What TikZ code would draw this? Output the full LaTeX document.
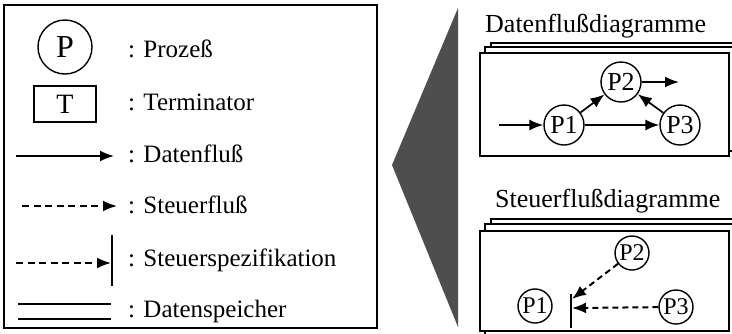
\documentclass[tikz,border=0pt]{standalone}
\usepackage{fontspec}
\setmainfont{Liberation Serif}
\usetikzlibrary{arrows.meta}
\definecolor{tri}{RGB}{78,78,78}
\begin{document}
\begin{tikzpicture}[x=1pt,y=-1pt,
  frame/.style={draw, line width=1.5pt},
  proc/.style={circle, draw, line width=1.4pt, inner sep=0pt, minimum size=40pt, font=\fontsize{26}{26}\selectfont},
  sproc/.style={proc, minimum size=34pt, font=\fontsize{24}{24}\selectfont},
  flow/.style={line width=1.7pt, -{Latex[length=14pt,width=11pt]}},
  ctrl/.style={flow, line width=2pt, dash pattern=on 7pt off 4.5pt},
  lbl/.style={anchor=base west, inner sep=0pt, font=\fontsize{25}{25}\selectfont},
  ttl/.style={anchor=base west, inner sep=0pt, font=\fontsize{26}{26}\selectfont},
  page/.style={draw, fill=white, line width=1.4pt}]
\useasboundingbox (0,0) rectangle (732,333);

% legend box
\draw[frame] (4,5) rectangle (377,328);
\node[circle, draw, line width=1.4pt, minimum size=54pt, inner sep=0pt, font=\fontsize{32}{32}\selectfont] (lp) at (65,47) {P};
\node[draw, line width=1.4pt, minimum width=62pt, minimum height=36pt, inner sep=0pt, font=\fontsize{28}{28}\selectfont] (lt) at (65,104) {T};
\node[lbl] (tp) at (128,57) {: Prozeß};
\node[lbl] (tt) at (128,110) {: Terminator};
\node[lbl] (td) at (128,162) {: Datenfluß};
\node[lbl] (ts) at (128,213) {: Steuerfluß};
\node[lbl] (tz) at (128,266) {: Steuerspezifikation};
\node[lbl] (tm) at (128,317) {: Datenspeicher};

\coordinate (a1) at (16,156); \coordinate (a2) at (114,156);
\draw[flow] (a1) -- (a2);
\coordinate (b1) at (22,206); \coordinate (b2) at (117,206);
\draw[ctrl] (b1) -- (b2);
\coordinate (c1) at (16,263); \coordinate (c2) at (111,263);
\draw[ctrl] (c1) -- (c2);
\coordinate (ct) at (112,235); \coordinate (cb) at (112,286);
\draw[line width=1.5pt] (ct) -- (cb);
\coordinate (m1) at (18,304); \coordinate (m2) at (111,304);
\coordinate (m3) at (18,319); \coordinate (m4) at (111,319);
\draw[line width=1.5pt] (m1) -- (m2) (m3) -- (m4);

% triangle
\fill[tri] (458,8) -- (392,165) -- (458,327) -- cycle;

% Datenflussdiagramme
\node[ttl] (t1) at (485,32) {Datenflußdiagramme};
\draw[page] (491,43) rectangle (741,146);
\draw[page] (485,47) rectangle (735,151);
\draw[page] (480,53) rectangle (729,156);
\node[proc] (d1) at (564,125) {P1};
\node[proc] (d2) at (621,82) {P2};
\node[proc] (d3) at (680,125) {P3};
\coordinate (din) at (499,125);
\coordinate (dout) at (679,82);
\draw[flow] (din) -- (d1);
\draw[flow] (d1) -- (d2);
\draw[flow] (d3) -- (d2);
\draw[flow] (d1) -- (d3);
\draw[flow] (d2) -- (dout);

% Steuerflussdiagramme
\node[ttl] (t2) at (495,207) {Steuerflußdiagramme};
\draw[page] (491,219) rectangle (741,340);
\draw[page] (485,224) rectangle (735,340);
\draw[page] (480,231) rectangle (729,331);
\node[sproc] (s1) at (535,306) {P1};
\node[sproc] (s2) at (632,253) {P2};
\node[sproc] (s3) at (676,307) {P3};
\coordinate (bt) at (571,294); \coordinate (bb) at (571,328);
\draw[line width=1.5pt] (bt) -- (bb);
\coordinate (e2) at (572,299); \coordinate (e3) at (572,308);
\draw[ctrl, dash pattern=on 6pt off 4pt] (s2) -- (e2);
\draw[ctrl, dash pattern=on 6pt off 4pt] (s3) -- (e3);
\end{tikzpicture}
\end{document}
